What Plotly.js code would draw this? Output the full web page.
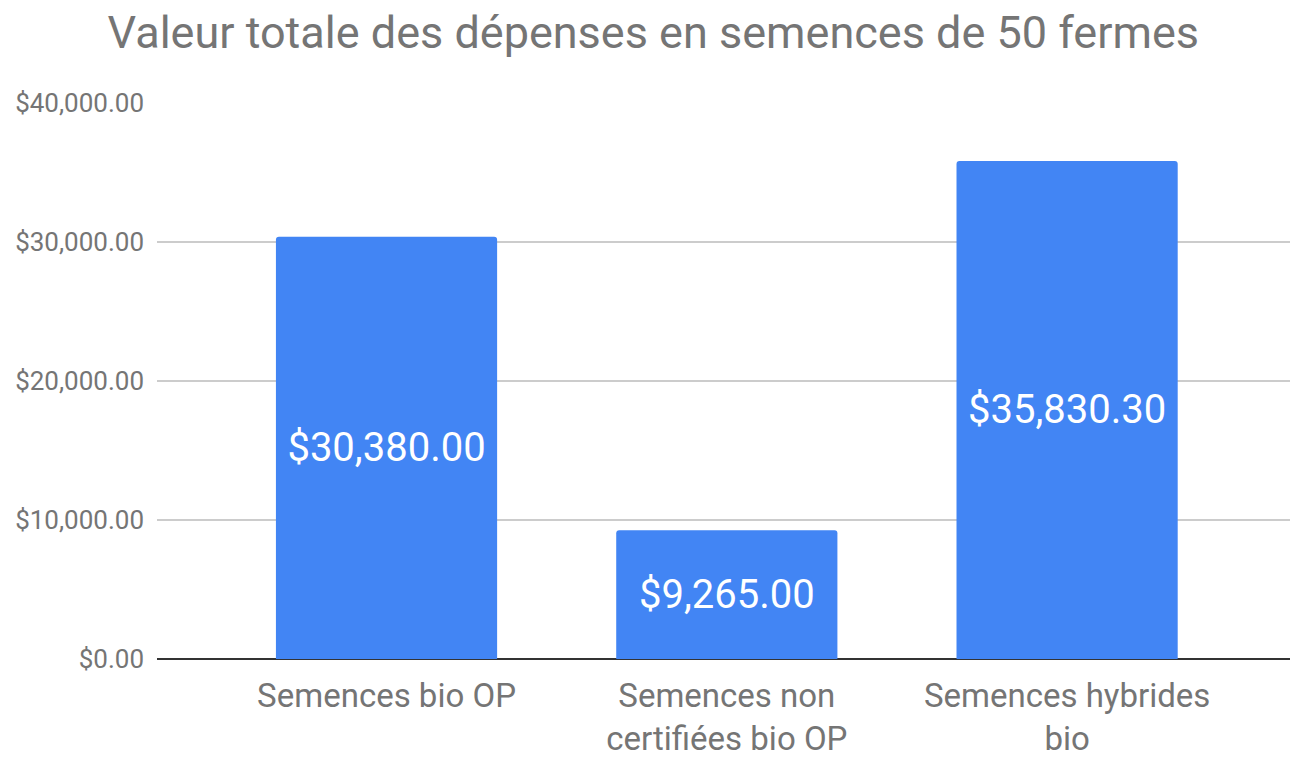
<!DOCTYPE html>
<html>
<head>
<meta charset="utf-8">
<script src="https://cdn.plot.ly/plotly-3.0.1.min.js"></script>
<style>html,body{margin:0;padding:0;background:#fff;}#chart{width:1291px;height:760px;}</style>
</head>
<body>
<div id="chart"></div>
<script>
const categories = ["Semences bio OP", "Semences non<br>certifiées bio OP", "Semences hybrides<br>bio"];
const values = [30380.00, 9265.00, 35830.30];
const yTickValues = [0, 10000, 20000, 30000, 40000];
const chartTitle = "Valeur totale des dépenses en semences de 50 fermes";

const trace = {
  type: 'bar',
  x: [0, 1, 2],
  y: values,
  width: 0.65,
  marker: {color: '#4285F4', cornerradius: 3},
  texttemplate: '%{y:$,.2f}',
  textposition: 'inside',
  insidetextanchor: 'middle',
  textangle: 0,
  textfont: {family: 'Roboto', size: 40, color: '#ffffff'},
  hoverinfo: 'none'
};

const layout = {
  width: 1291, height: 760,
  paper_bgcolor: '#fff', plot_bgcolor: '#fff',
  margin: {l: 157, r: 1, t: 103, b: 101},
  font: {family: 'Roboto', color: '#757575'},
  showlegend: false,
  title: {
    text: chartTitle,
    font: {family: 'Roboto', size: 45, color: '#757575'},
    x: 0.506, xanchor: 'center', xref: 'container',
    y: 0.957, yref: 'container', yanchor: 'middle'
  },
  xaxis: {
    range: [-0.6745, 2.655],
    tickmode: 'array',
    tickvals: [0, 1, 2],
    ticktext: categories,
    showgrid: false, zeroline: false, showline: false,
    ticks: '',
    ticklabelstandoff: 14,
    tickfont: {family: 'Roboto', size: 33, color: '#757575'},
    fixedrange: true
  },
  yaxis: {
    range: [0, 40000],
    tickmode: 'array',
    tickvals: yTickValues,
    tickformat: '$,.2f',
    showgrid: true, gridcolor: '#cccccc', gridwidth: 1.3,
    zeroline: true, zerolinecolor: '#333333', zerolinewidth: 2,
    showline: false, ticks: '',
    ticklabelstandoff: 12,
    tickfont: {family: 'Roboto', size: 26, color: '#757575'},
    fixedrange: true
  }
};

Plotly.newPlot('chart', [trace], layout, {displayModeBar: false, staticPlot: true});
</script>
</body>
</html>
